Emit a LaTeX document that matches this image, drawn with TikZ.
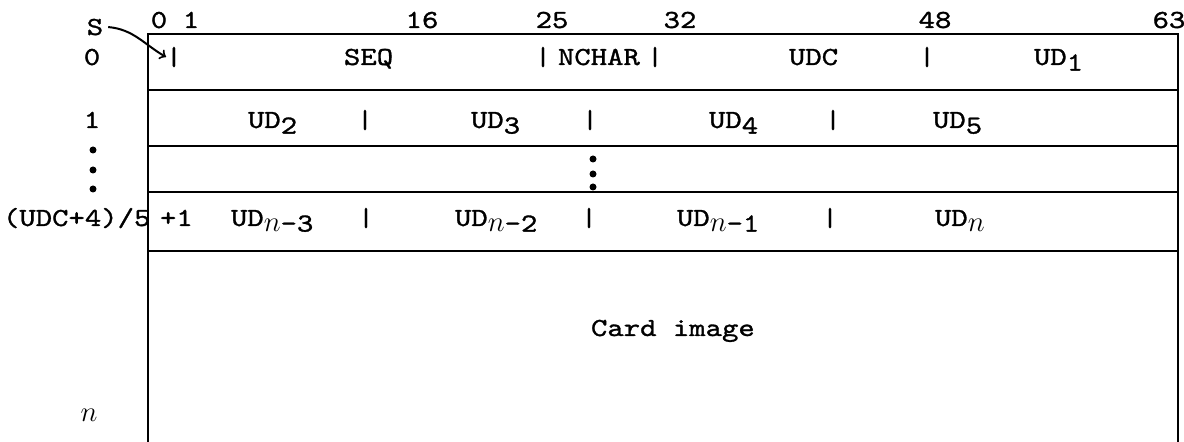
\documentclass[tikz,border=0pt]{standalone}
\usepackage{fontspec}
\setmonofont{lmmono10-regular.otf}[FakeStretch=1.2,FakeBold=1.2]
\usepackage{tikz}
\usetikzlibrary{positioning}
\newcommand{\low}[1]{\raisebox{-0.5ex}{#1}}
\newcommand{\nn}{{\fontsize{15}{16}\selectfont$n$}}

\begin{document}
\begin{tikzpicture}[x=0.5pt,y=-0.5pt,line width=1pt,
		txt/.style={font=\ttfamily\fontsize{13}{15}\selectfont,inner sep=0pt,anchor=base west},
		sep/.style={txt,anchor=base}]
		\useasboundingbox (0,0) rectangle (1184,442);
		% bit numbers
		\begin{scope}
			\foreach \x/\b in {159/0,191/1,422/16,552/25,680/32,935/48,1169/63}
				\node[sep] (b\b) at (\x,28) {\b};
		\end{scope}
		% record frame, open at the bottom
		\draw (148,442) -- (148,34) -- (1178,34) -- (1178,442);
		\foreach \y in {90,146,192,251}
			\draw (148,\y) -- (1178,\y);
		% word numbers
		\node[sep] (w0) at (92,65) {0};
		\node[sep] (w1) at (92,128) {1};
		\node[txt] (wk) at (2,226) {(UDC+4)/5};
		\node[sep] (wn) at (89,422) {\nn};
		\foreach \y in {150,170,189}
			\fill (93,\y) circle (3.5);
		\node[sep] (S) at (95,35) {S};
		\coordinate (s0) at (166,57);
		\draw[->] ([xshift=2pt]S.east) to[out=-5,in=150] (s0);
		% word 0
		\node[sep] (p0) at (174,65) {|};
		\node[txt] (seq) at (343,65) {SEQ};
		\node[sep] (p1) at (543,65) {|};
		\node[txt] (nchar) at (557,65) {NCHAR};
		\node[sep] (p2) at (655,65) {|};
		\node[txt] (udc) at (788,65) {UDC};
		\node[sep] (p3) at (927,65) {|};
		\node[txt] (ud1) at (1033,65) {UD\low{1}};
		% word 1
		\node[txt] (ud2) at (247,128) {UD\low{2}};
		\node[sep] (q1) at (365,128) {|};
		\node[txt] (ud3) at (470,128) {UD\low{3}};
		\node[sep] (q2) at (590,128) {|};
		\node[txt] (ud4) at (708,128) {UD\low{4}};
		\node[sep] (q3) at (833,128) {|};
		\node[txt] (ud5) at (932,128) {UD\low{5}};
		\foreach \y in {159,174,187}
			\fill (593,\y) circle (3.5);
		% last word
		\node[txt] (plus) at (159,226) {+1};
		\node[txt] (udn3) at (230,226) {UD\low{\nn-3}};
		\node[sep] (r1) at (366,226) {|};
		\node[txt] (udn2) at (454,226) {UD\low{\nn-2}};
		\node[sep] (r2) at (589,226) {|};
		\node[txt] (udn1) at (676,226) {UD\low{\nn-1}};
		\node[sep] (r3) at (830,226) {|};
		\node[txt] (udn) at (934,226) {UD\low{\nn}};
		% card image
		\node[txt] (card) at (590,336) {Card image};
	\end{tikzpicture}
\end{document}
